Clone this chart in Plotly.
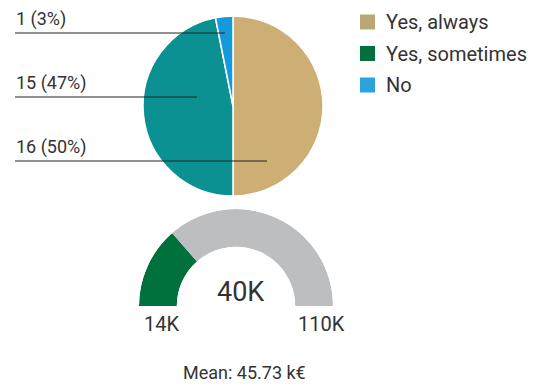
import plotly.graph_objects as go

W, H = 547, 385

# Survey answers
answers = ["Yes, always", "Yes, sometimes", "No"]
counts = [16, 15, 1]
slice_colors = ["#CDAF76", "#0B9192", "#1499DA"]
legend_colors = ["#B8A878", "#00703C", "#2BA3DE"]

# Gauge values (k€)
gauge_min = 14
gauge_value = 40
gauge_max = 110
mean_value = 45.73

FONT = "Roboto"
TXT = "#333333"


def px(x):
    return x / W


def py(y):
    return 1 - y / H


fig = go.Figure()

# Main pie
fig.add_trace(go.Pie(
    labels=answers, values=counts, sort=False, direction="clockwise", rotation=0,
    marker=dict(colors=slice_colors, line=dict(color="white", width=1.5)),
    textinfo="none", hoverinfo="label+value+percent", showlegend=False,
    domain=dict(x=[px(143), px(323)], y=[py(196), py(16)]),
))

# Gauge as a half-ring on a polar subplot
span = gauge_max - gauge_min
to_deg = lambda v: (v - gauge_min) / span * 180.0
filled = to_deg(gauge_value)
fig.add_trace(go.Barpolar(
    r=[1], theta=[filled / 2], width=[filled], base=0,
    marker=dict(color="#00703C", line=dict(width=0)), showlegend=False,
))
fig.add_trace(go.Barpolar(
    r=[1], theta=[(filled + 180) / 2], width=[180 - filled], base=0,
    marker=dict(color="#BDBEC0", line=dict(width=0)), showlegend=False,
))

shapes = []
annotations = []

# Pie labels with underlines
total = sum(counts)
label_rows = [(2, 33, 225), (1, 97, 197), (0, 161, 267)]
for idx, y_line, x_end in label_rows:
    pct = round(counts[idx] / total * 100)
    annotations.append(dict(
        x=px(15), y=py(y_line - 2), xref="paper", yref="paper", xanchor="left", yanchor="bottom",
        text=f"{counts[idx]} ({pct}%)", showarrow=False, borderpad=0,
        font=dict(family=FONT, size=18, color=TXT),
    ))
    shapes.append(dict(
        type="line", xref="paper", yref="paper",
        x0=px(15), x1=px(x_end), y0=py(y_line), y1=py(y_line),
        line=dict(color="#222222", width=1),
    ))

# Legend
for i, (name, col) in enumerate(zip(answers, legend_colors)):
    yc = 22 + i * 31.5
    shapes.append(dict(
        type="rect", xref="paper", yref="paper",
        x0=px(360), x1=px(375), y0=py(yc - 7.5), y1=py(yc + 7.5),
        fillcolor=col, line=dict(width=0),
    ))
    annotations.append(dict(
        x=px(384), y=py(yc), xref="paper", yref="paper", xanchor="left", yanchor="middle",
        text=name, showarrow=False, font=dict(family=FONT, size=20, color=TXT),
    ))

# Gauge texts
annotations += [
    dict(x=px(240), y=py(292), text=f"{gauge_value}K", font=dict(family=FONT, size=27, color=TXT)),
    dict(x=px(161), y=py(324), text=f"{gauge_min}K", font=dict(family=FONT, size=20, color=TXT)),
    dict(x=px(321), y=py(324), text=f"{gauge_max}K", font=dict(family=FONT, size=20, color=TXT)),
    dict(x=px(244), y=py(372), text=f"Mean: {mean_value:.2f} k€", font=dict(family=FONT, size=18, color=TXT)),
]
for a in annotations[-4:]:
    a.update(xref="paper", yref="paper", xanchor="center", yanchor="middle", showarrow=False)

fig.update_layout(
    width=W, height=H, margin=dict(l=0, r=0, t=0, b=0),
    paper_bgcolor="white", plot_bgcolor="white",
    polar=dict(
        domain=dict(x=[px(139), px(333)], y=[py(306), py(209)]),
        sector=[0, 180], hole=0.61, bgcolor="rgba(0,0,0,0)",
        radialaxis=dict(visible=False, range=[0, 1]),
        angularaxis=dict(visible=False, rotation=180, direction="clockwise"),
        bargap=0,
    ),
    shapes=shapes, annotations=annotations,
)

fig.write_html("out.html")
